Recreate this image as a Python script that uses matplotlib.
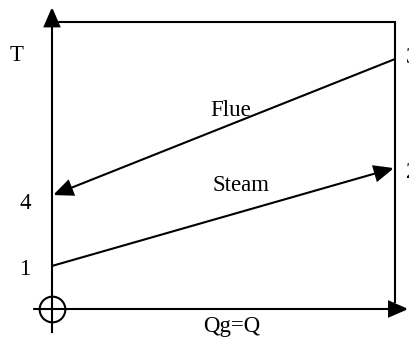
import matplotlib
matplotlib.use("Agg")
import matplotlib.pyplot as plt
from matplotlib.patches import FancyArrowPatch

# Data (Q normalized 0..1, T arbitrary units 0..10)
flue_Q = [1.0, 0.003]
flue_T = [8.71, 3.97]
steam_Q = [0.0, 0.997]
steam_T = [1.50, 4.91]
point_labels = ["T", "4", "1", "3", "2"]
line_labels = ["Flue", "Steam"]
x_label = "Qg=Q"

W, H = 409, 340
fig = plt.figure(figsize=(W / 100, H / 100), dpi=100)
ax = fig.add_axes([0, 0, 1, 1])
# pixel mapping: x_px = 52 + 343*Q ; y_px = 309 - 28.7*T
ax.set_xlim(-52 / 343, (W - 52) / 343)
ax.set_ylim((309 - H) / 28.7, 309 / 28.7)
ax.axis("off")

lw = 1.5
fam = ["Liberation Serif", "DejaVu Serif"]
fs = 16.5

def arrow(p0, p1, hl=1.2, hw=0.52):
    a = FancyArrowPatch(p0, p1, arrowstyle=f"-|>,head_length={hl},head_width={hw}",
                        mutation_scale=10, shrinkA=0, shrinkB=0, lw=lw,
                        color="black", joinstyle="miter", capstyle="butt")
    ax.add_patch(a)

# axes
arrow((0, -0.84), (0, 10.52))
arrow((-0.055, 0), (1.039, 0))
# frame top and right
ax.plot([0, 1.0, 1.0], [10.0, 10.0, 0.25], color="black", lw=lw, solid_joinstyle="miter")
# origin circle
ax.plot([0], [0], marker="o", markersize=18.5, mfc="none", mec="black", mew=lw)

# process lines
arrow((flue_Q[0], flue_T[0]), (flue_Q[1], flue_T[1]))
arrow((steam_Q[0], steam_T[0]), (steam_Q[1], steam_T[1]))

# labels
ax.text(-0.104, 8.83, point_labels[0], fontsize=fs, family=fam, ha="center", va="center")
ax.text(-0.077, 3.66, point_labels[1], fontsize=fs, family=fam, ha="center", va="center")
ax.text(-0.079, 1.36, point_labels[2], fontsize=fs, family=fam, ha="center", va="center")
ax.text(1.033, 8.78, point_labels[3], fontsize=fs, family=fam, ha="left", va="center")
ax.text(1.033, 4.77, point_labels[4], fontsize=fs, family=fam, ha="left", va="center")
ax.text(0.52, 6.93, line_labels[0], fontsize=fs, family=fam, ha="center", va="center")
ax.text(0.552, 4.3, line_labels[1], fontsize=fs, family=fam, ha="center", va="center")
ax.text(0.525, -0.62, x_label, fontsize=fs, family=fam, ha="center", va="center")

fig.savefig("out.png", dpi=100)
